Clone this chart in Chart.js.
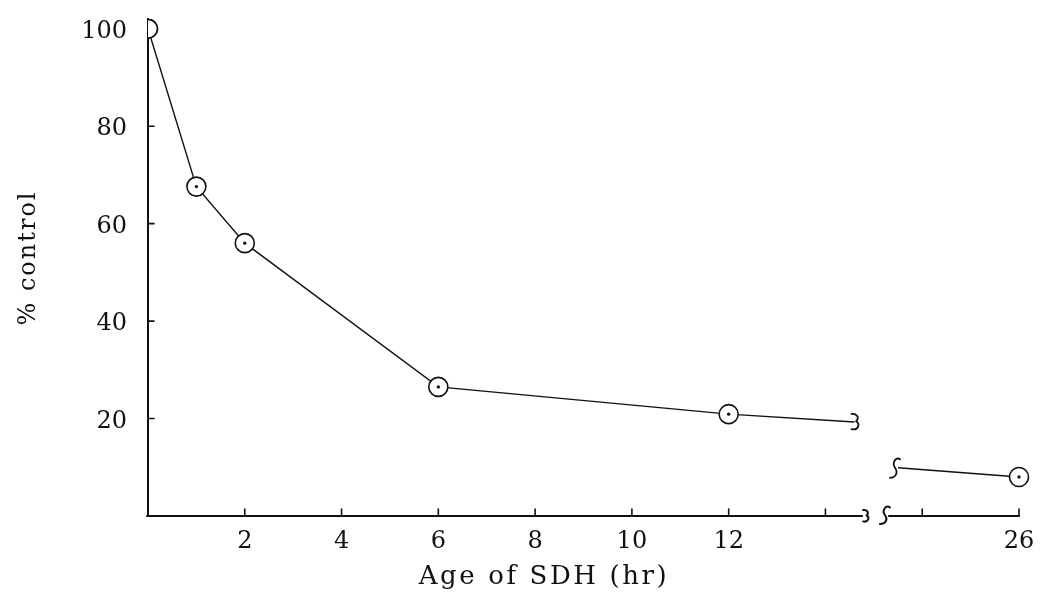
<!DOCTYPE html>
<html>
<head>
<meta charset="utf-8">
<script src="https://cdn.jsdelivr.net/npm/chart.js@4/dist/chart.umd.min.js"></script>
<style>
  html, body { margin: 0; padding: 0; background: #fff; }
  #wrap { width: 1041px; height: 597px; }
</style>
</head>
<body>
<div id="wrap"><canvas id="c" width="1041" height="597"></canvas></div>
<script>
// ---- data ----
const hours = [0, 1, 2, 6, 12, 26];
const percentControl = [100, 67.6, 56, 26.5, 20.9, 8.0];
// where the drawn line is broken (hours, % control)
const breakLineHours = [14.6, 23.5];
const breakLinePct = [19.3, 9.9];
// where the x axis is broken (hours)
const axisBreakHours = [14.8, 23.25];
const xTickLabelHours = [2, 4, 6, 8, 10, 12, 26];
const xTickMarkHours = [2, 4, 6, 8, 10, 12, 14, 24, 26];
const yTickValues = [20, 40, 60, 80, 100];
const yMarkValues = [20, 40, 60, 80];

// broken axis: hours beyond the break are shifted left by 8 h
const BREAK_SHIFT = 8;
const toD = h => (h > 15 ? h - BREAK_SHIFT : h);
const fromD = d => (d > 15 ? d + BREAK_SHIFT : d);

const INK = '#111';

const linePts = [];
hours.forEach((h, i) => { if (h <= 12) linePts.push({ x: toD(h), y: percentControl[i] }); });
linePts.push({ x: toD(breakLineHours[0]), y: breakLinePct[0] });
linePts.push({ x: 15, y: null });
linePts.push({ x: toD(breakLineHours[1]), y: breakLinePct[1] });
linePts.push({ x: toD(hours[5]), y: percentControl[5] });

const markerPts = hours.map((h, i) => ({ x: toD(h), y: percentControl[i] }));

// "ʃ"-like break mark: top hook to the right, bottom hook to the left
function squiggleS(ctx, x, y, w, h) {
  ctx.beginPath();
  ctx.moveTo(x + w, y - h * 0.85);
  ctx.bezierCurveTo(x + w * 0.2, y - h * 1.15, x - w * 0.7, y - h * 0.5, x, y);
  ctx.bezierCurveTo(x + w * 0.7, y + h * 0.5, x + w * 0.1, y + h * 1.0, x - w, y + h);
  ctx.stroke();
}
// "ʂ"-like mark: top hook to the left, bottom hook to the left
function squiggleZ(ctx, x, y, w, h) {
  ctx.beginPath();
  ctx.moveTo(x - w, y - h);
  ctx.bezierCurveTo(x + w * 0.2, y - h * 1.1, x + w * 1.1, y - h * 0.6, x + w * 0.2, y - h * 0.1);
  ctx.bezierCurveTo(x + w * 1.3, y + h * 0.3, x + w * 0.6, y + h * 1.1, x - w, y + h * 0.9);
  ctx.stroke();
}

const decor = {
  id: 'decor',
  afterDatasetsDraw(chart) {
    const ctx = chart.ctx;
    const xs = chart.scales.x, ys = chart.scales.y;
    const y0 = ys.getPixelForValue(0);
    const xl = ys.left + ys.width;
    ctx.save();
    ctx.strokeStyle = INK;
    ctx.fillStyle = INK;
    ctx.lineCap = 'round';
    // x axis segments
    ctx.lineWidth = 2;
    const a1 = xs.getPixelForValue(toD(axisBreakHours[0]));
    const a2 = xs.getPixelForValue(toD(axisBreakHours[1]));
    ctx.beginPath();
    ctx.moveTo(xs.getPixelForValue(0) - 1, y0);
    ctx.lineTo(a1 - 2, y0);
    ctx.moveTo(a2 + 3, y0);
    ctx.lineTo(xs.getPixelForValue(toD(26)), y0);
    ctx.stroke();
    ctx.lineWidth = 2;
    squiggleZ(ctx, a1 + 2, y0, 3, 6);
    squiggleS(ctx, a2 - 1, y0 - 1, 5, 9);
    // line break marks
    ctx.lineWidth = 1.8;
    squiggleZ(ctx, xs.getPixelForValue(toD(breakLineHours[0])) + 1, ys.getPixelForValue(breakLinePct[0]), 4, 8);
    squiggleS(ctx, xs.getPixelForValue(toD(breakLineHours[1])) - 3, ys.getPixelForValue(breakLinePct[1]), 5, 10);
    // inward tick marks
    ctx.lineWidth = 1.6;
    ctx.beginPath();
    xTickMarkHours.forEach(h => {
      const px = xs.getPixelForValue(toD(h));
      ctx.moveTo(px, y0);
      ctx.lineTo(px, y0 - 7);
    });
    yMarkValues.forEach(v => {
      const py = ys.getPixelForValue(v);
      ctx.moveTo(xl, py);
      ctx.lineTo(xl + 6, py);
    });
    ctx.stroke();
    // axis titles
    ctx.font = '26px "DejaVu Serif"';
    ctx.textAlign = 'center';
    ctx.textBaseline = 'middle';
    try { ctx.letterSpacing = '2.6px'; } catch (e) {}
    ctx.fillText('Age of SDH (hr)', 544, 577);
    ctx.save();
    ctx.translate(29, 258);
    ctx.rotate(-Math.PI / 2);
    ctx.font = '24px "DejaVu Serif"';
    try { ctx.letterSpacing = '2px'; } catch (e) {}
    ctx.fillText('% control', 0, 0);
    ctx.restore();
    ctx.restore();
  }
};

new Chart(document.getElementById('c'), {
  type: 'line',
  data: {
    datasets: [
      {
        data: linePts,
        borderColor: INK,
        borderWidth: 1.4,
        pointRadius: 0,
        spanGaps: false,
        tension: 0,
        clip: false,
        order: 4
      },
      {
        // the 0 h marker is cut by the y axis, as in the original
        data: markerPts.slice(0, 1),
        showLine: false,
        pointRadius: 9.5,
        pointBorderWidth: 1.8,
        pointBorderColor: INK,
        pointBackgroundColor: '#fff',
        clip: 0,
        order: 3
      },
      {
        data: markerPts.slice(1),
        showLine: false,
        pointRadius: 9.5,
        pointBorderWidth: 1.6,
        pointBorderColor: INK,
        pointBackgroundColor: '#fff',
        clip: false,
        order: 2
      },
      {
        data: markerPts.slice(1),
        showLine: false,
        pointRadius: 1.7,
        pointBorderWidth: 0,
        pointBackgroundColor: INK,
        clip: false,
        order: 1
      }
    ]
  },
  options: {
    responsive: false,
    animation: false,
    events: [],
    layout: { padding: { left: 0, right: 22, top: 19, bottom: 0 } },
    plugins: { legend: { display: false }, tooltip: { enabled: false } },
    scales: {
      x: {
        type: 'linear',
        min: 0,
        max: 18,
        grid: { display: false, drawTicks: false },
        border: { display: false },
        afterBuildTicks: s => { s.ticks = xTickLabelHours.map(h => ({ value: toD(h) })); },
        afterFit: s => { s.height = 81; s.paddingLeft = 0; s.paddingRight = 0; },
        ticks: {
          padding: 11,
          color: INK,
          maxRotation: 0,
          autoSkip: false,
          font: { family: '"DejaVu Serif"', size: 24 },
          callback: v => String(fromD(v))
        }
      },
      y: {
        type: 'linear',
        min: 0,
        max: 102,
        grid: { display: false, drawTicks: false },
        border: { display: true, color: INK, width: 2 },
        afterBuildTicks: s => { s.ticks = yTickValues.map(v => ({ value: v })); },
        afterFit: s => { s.width = 148; s.paddingTop = 0; s.paddingBottom = 0; },
        ticks: {
          padding: 21,
          color: INK,
          labelOffset: 3,
          font: { family: '"DejaVu Serif"', size: 24 }
        }
      }
    }
  },
  plugins: [decor]
});
</script>
</body>
</html>
